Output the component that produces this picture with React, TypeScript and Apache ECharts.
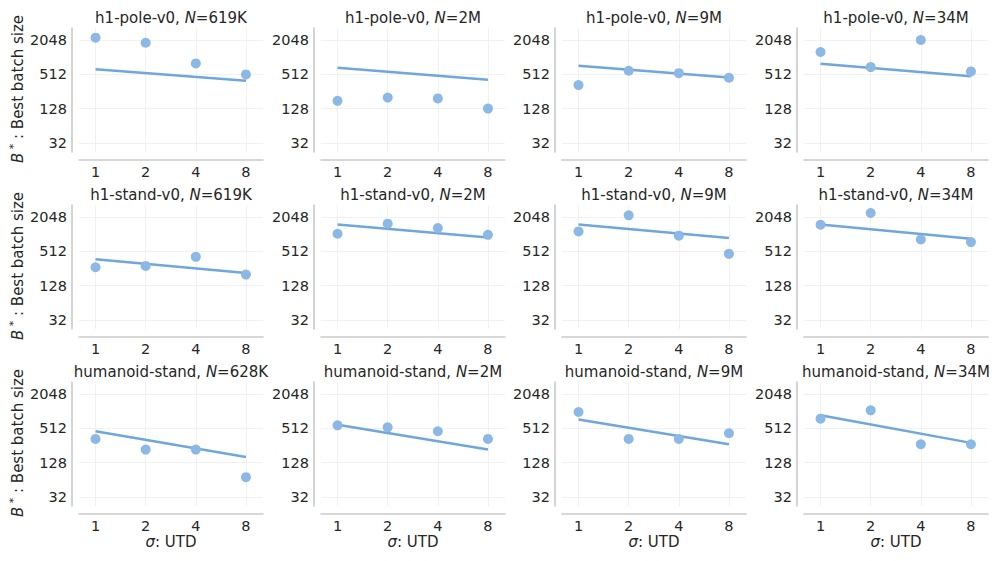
import React, { useEffect, useRef } from "react";
import * as echarts from "echarts";

// ---- data ----
const sigmas = [1, 2, 4, 8];
const fitSigmas = [1, 8];
const envNames = ["h1-pole-v0", "h1-stand-v0", "humanoid-stand"];
const paramCounts = [
  ["619K", "2M", "9M", "34M"],
  ["619K", "2M", "9M", "34M"],
  ["628K", "2M", "9M", "34M"],
];
const xTickValues = [1, 2, 4, 8];
const yTickValues = [32, 128, 512, 2048];

// best batch size per panel (row-major), at sigma = 1, 2, 4, 8
const bestBatch = [
  [2250, 1830, 796, 509],
  [175, 200, 193, 128],
  [331, 592, 537, 445],
  [1260, 685, 2048, 576],
  [269, 284, 410, 200],
  [1040, 1565, 1310, 997],
  [1145, 2190, 963, 462],
  [1500, 2410, 826, 743],
  [333, 217, 217, 71],
  [577, 532, 455, 333],
  [989, 333, 333, 419],
  [755, 1060, 269, 269],
];
// fitted power-law line, at sigma = 1 and 8
const fitBatch = [
  [630, 393],
  [667, 410],
  [724, 452],
  [787, 475],
  [372, 214],
  [1520, 898],
  [1520, 874],
  [1520, 850],
  [455, 161],
  [592, 217],
  [734, 269],
  [867, 284],
];

// ---- layout / style ----
const colLeft = [79, 321, 562, 804];
const rowTop = [28, 205, 382];
const gridW = 184;
const gridH = 124;
const xMin = -0.33;
const xMax = 3.34;
const yMin = 4.47;
const yMax = 11.7;
const FONT = "DejaVu Sans";
const TEXT = "#262626";
const SPINE = "#cacaca";
const GRIDLINE = "#eeeeee";
const POINT = "#8cb8e6";
const LINE = "#6fa6dd";

export default function App() {
  const ref = useRef<HTMLDivElement>(null);

  useEffect(() => {
    if (!ref.current) return;
    const chart = echarts.init(ref.current, undefined, { renderer: "svg" });

    const grids: any[] = [];
    const xAxes: any[] = [];
    const yAxes: any[] = [];
    const series: any[] = [];
    const graphics: any[] = [];

    const lx = xTickValues.map((v) => Math.log2(v));
    const ly = yTickValues.map((v) => Math.log2(v));

    for (let i = 0; i < 12; i++) {
      const r = Math.floor(i / 4);
      const c = i % 4;
      grids.push({ left: colLeft[c], top: rowTop[r], width: gridW, height: gridH });
      xAxes.push({
        gridIndex: i,
        type: "value",
        min: xMin,
        max: xMax,
        offset: 8,
        axisLine: { show: true, onZero: false, lineStyle: { color: SPINE, width: 1.6 } },
        axisTick: { show: false, customValues: lx },
        axisLabel: {
          customValues: lx,
          formatter: (v: number) => String(Math.round(Math.pow(2, v))),
          margin: 4,
          fontSize: 14.5,
          fontFamily: FONT,
          color: TEXT,
        },
        splitLine: { show: true, lineStyle: { color: GRIDLINE, width: 0.8 } },
      });
      yAxes.push({
        gridIndex: i,
        type: "value",
        min: yMin,
        max: yMax,
        offset: 7,
        axisLine: { show: true, onZero: false, lineStyle: { color: SPINE, width: 1.6 } },
        axisTick: { show: false, customValues: ly },
        axisLabel: {
          customValues: ly,
          formatter: (v: number) => String(Math.round(Math.pow(2, v))),
          margin: 5,
          fontSize: 14.5,
          fontFamily: FONT,
          color: TEXT,
        },
        splitLine: { show: true, lineStyle: { color: GRIDLINE, width: 0.8 } },
      });
      series.push({
        type: "line",
        xAxisIndex: i,
        yAxisIndex: i,
        data: fitSigmas.map((s, k) => [Math.log2(s), Math.log2(fitBatch[i][k])]),
        showSymbol: false,
        symbol: "none",
        lineStyle: { color: LINE, width: 2.5 },
        z: 2,
      });
      series.push({
        type: "scatter",
        xAxisIndex: i,
        yAxisIndex: i,
        data: sigmas.map((s, k) => [Math.log2(s), Math.log2(bestBatch[i][k])]),
        symbolSize: 10,
        itemStyle: { color: POINT, opacity: 1 },
        z: 3,
      });

      // panel title
      graphics.push({
        type: "text",
        x: colLeft[c] + gridW / 2,
        y: rowTop[r] - 10,
        style: {
          text: `{a|${envNames[r]}, }{i|N}{a|=${paramCounts[r][c]}}`,
          align: "center",
          verticalAlign: "middle",
          rich: {
            a: { fontSize: 15, fontFamily: FONT, fill: TEXT },
            i: { fontSize: 15, fontFamily: FONT, fill: TEXT, fontStyle: "italic" },
          },
        },
      });
    }

    // y labels
    for (let r = 0; r < 3; r++) {
      graphics.push({
        type: "text",
        x: 18,
        y: rowTop[r] + gridH / 2 - 1,
        rotation: Math.PI / 2,
        style: {
          text: "{b|B}{s| *}{a| : Best batch size}",
          align: "center",
          verticalAlign: "middle",
          rich: {
            b: { fontSize: 15, fontFamily: FONT, fill: TEXT, fontStyle: "italic", lineHeight: 20 },
            s: { fontSize: 11, fontFamily: FONT, fill: TEXT, verticalAlign: "top", lineHeight: 12 },
            a: { fontSize: 15, fontFamily: FONT, fill: TEXT, lineHeight: 20 },
          },
        },
      });
    }
    // x labels (bottom row)
    for (let c = 0; c < 4; c++) {
      graphics.push({
        type: "text",
        x: colLeft[c] + gridW / 2,
        y: 542,
        style: {
          text: "{i|σ}{a|: UTD}",
          align: "center",
          verticalAlign: "middle",
          rich: {
            i: { fontSize: 15, fontFamily: FONT, fill: TEXT, fontStyle: "italic" },
            a: { fontSize: 15, fontFamily: FONT, fill: TEXT },
          },
        },
      });
    }

    chart.setOption({
      animation: false,
      backgroundColor: "#ffffff",
      grid: grids,
      xAxis: xAxes,
      yAxis: yAxes,
      series,
      graphic: graphics,
    });

    return () => chart.dispose();
  }, []);

  return (
    <div
      ref={ref}
      style={{ position: "fixed", left: 0, top: 0, width: 997, height: 561 }}
    />
  );
}
